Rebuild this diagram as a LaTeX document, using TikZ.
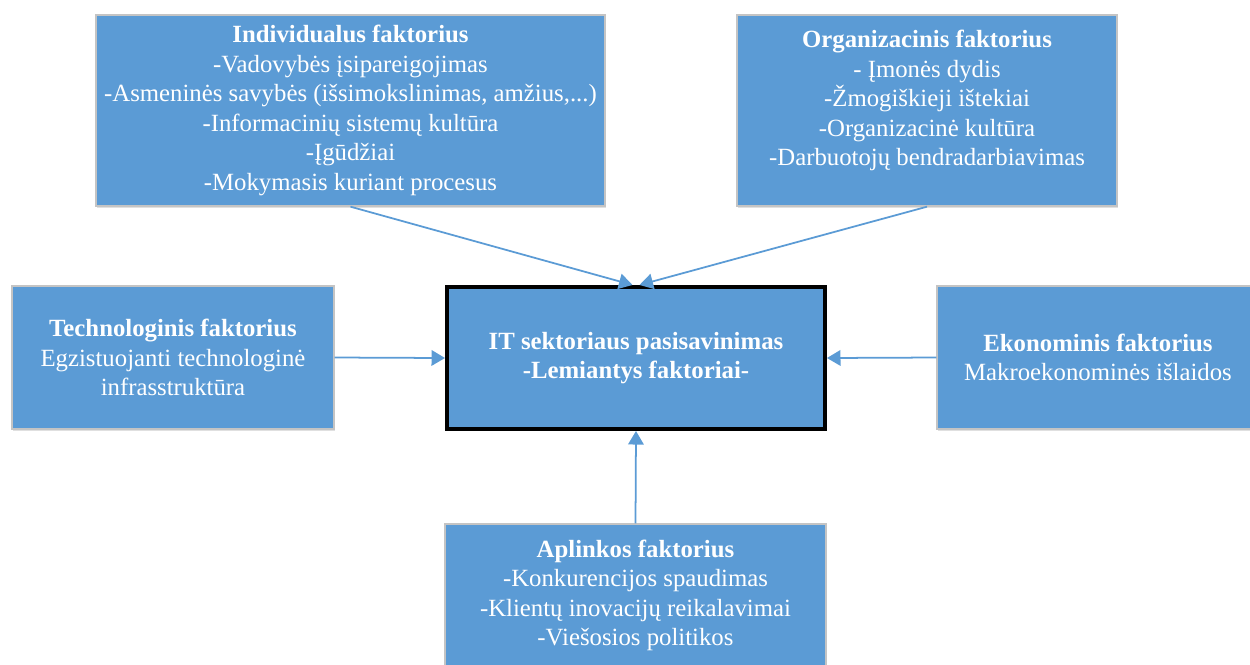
\documentclass[tikz,border=0pt]{standalone}
\usepackage{fontspec}
\setmainfont{Liberation Serif}
\usetikzlibrary{arrows.meta, shadows}
\definecolor{boxblue}{RGB}{91,155,213}
\definecolor{boxedge}{RGB}{196,196,196}

\begin{document}
\begin{tikzpicture}[
  x=0.02cm, y=-0.02cm,
  box/.style={draw=boxedge, line width=0.8pt, fill=boxblue, text=white, align=center,
    inner sep=0pt, font=\fontsize{14.1}{16.8}\selectfont,
    drop shadow={shadow xshift=0.6pt, shadow yshift=-1.4pt, fill=black!12, opacity=1}},
  arr/.style={-{Triangle[length=2.7mm, width=3.1mm]}, line width=1pt, draw=boxblue, fill=boxblue},
]
  \useasboundingbox (0,0) rectangle (1250,664);

  \node[box, minimum width=10.18cm, minimum height=3.82cm] (indiv) at (350.5,110.5)
    {\textbf{Individualus faktorius}\\-Vadovybės įsipareigojimas\\-Asmeninės savybės (išsimokslinimas, amžius,...)\\-Informacinių sistemų kultūra\\-Įgūdžiai\\-Mokymasis kuriant procesus};
  \node[box, minimum width=7.6cm, minimum height=3.82cm, text depth=0.5cm] (organ) at (927,110.5)
    {\textbf{Organizacinis faktorius}\\- Įmonės dydis\\-Žmogiškieji ištekiai\\-Organizacinė kultūra\\-Darbuotojų bendradarbiavimas};
  \node[box, minimum width=6.44cm, minimum height=2.86cm] (techn) at (173,357.5)
    {\textbf{Technologinis faktorius}\\Egzistuojanti technologinė\\infrasstruktūra};
  \node[box, draw=black, line width=2.3pt, minimum width=7.56cm, minimum height=2.84cm] (center) at (636,358)
    {\textbf{IT sektoriaus pasisavinimas}\\\textbf{-Lemiantys faktoriai-}};
  \node[box, minimum width=6.44cm, minimum height=2.86cm] (ekon) at (1098,357.5)
    {\textbf{Ekonominis faktorius}\\Makroekonominės išlaidos};
  \node[box, minimum width=7.62cm, minimum height=2.86cm] (aplink) at (635.5,595.5)
    {\textbf{Aplinkos faktorius}\\-Konkurencijos spaudimas\\-Klientų inovacijų reikalavimai\\-Viešosios politikos};

  \draw[arr] (indiv.south) -- ([xshift=-0.07cm]center.north);
  \draw[arr] (organ.south) -- ([xshift=0.07cm]center.north);
  \draw[arr] (techn.east) -- (center.west);
  \draw[arr] (ekon.west) -- (center.east);
  \draw[arr] (aplink.north) -- (center.south);
\end{tikzpicture}
\end{document}
